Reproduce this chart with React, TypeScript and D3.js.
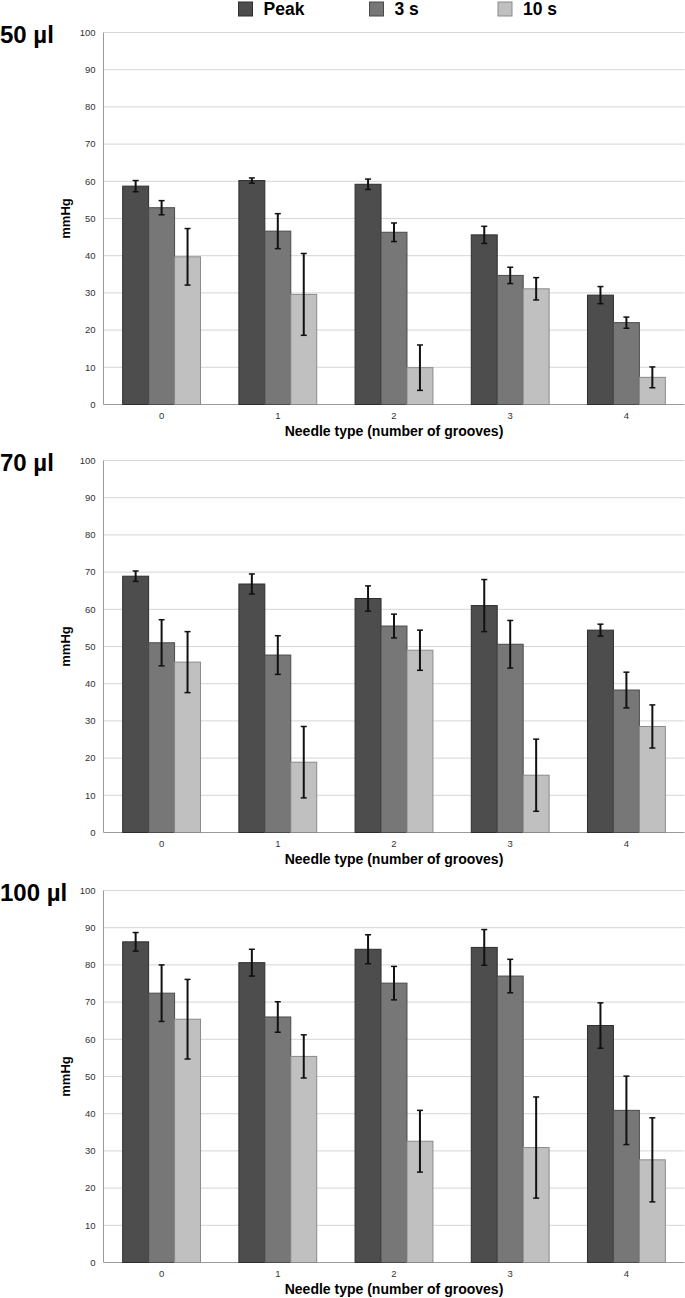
import React, { useEffect, useRef } from 'react';
import * as d3 from 'd3';

const categories = ['0', '1', '2', '3', '4'];
const seriesNames = ['Peak', '3 s', '10 s'];
const seriesColors = ['#4d4d4d', '#777777', '#c0c0c0'];
const seriesStrokes = ['#2e2e2e', '#4a4a4a', '#8a8a8a'];
const yTicks = [0, 10, 20, 30, 40, 50, 60, 70, 80, 90, 100];
const panelLabels = ['50 µl', '70 µl', '100 µl'];

// 50 µl
const peak50 = [58.7, 60.2, 59.2, 45.6, 29.4];
const peak50Err = [1.5, 0.7, 1.4, 2.3, 2.3];
const s3_50 = [52.9, 46.6, 46.3, 34.7, 22.0];
const s3_50Err = [1.9, 4.7, 2.5, 2.2, 1.5];
const s10_50 = [39.7, 29.6, 9.9, 31.1, 7.3];
const s10_50Err = [7.6, 11.0, 6.1, 3.0, 2.8];

// 70 µl
const peak70 = [68.9, 66.8, 62.9, 61.0, 54.4];
const peak70Err = [1.4, 2.7, 3.4, 7.0, 1.6];
const s3_70 = [51.0, 47.7, 55.5, 50.6, 38.3];
const s3_70Err = [6.2, 5.2, 3.2, 6.4, 4.8];
const s10_70 = [45.8, 18.9, 49.0, 15.4, 28.5];
const s10_70Err = [8.2, 9.6, 5.4, 9.7, 5.8];

// 100 µl
const peak100 = [86.2, 80.6, 84.2, 84.7, 63.7];
const peak100Err = [2.5, 3.6, 3.9, 4.8, 6.1];
const s3_100 = [72.4, 66.0, 75.1, 77.0, 40.9];
const s3_100Err = [7.6, 4.1, 4.5, 4.5, 9.2];
const s10_100 = [65.4, 55.4, 32.6, 30.9, 27.6];
const s10_100Err = [10.7, 5.8, 8.3, 13.6, 11.3];

const panels = [
  { label: panelLabels[0], values: [peak50, s3_50, s10_50], errors: [peak50Err, s3_50Err, s10_50Err] },
  { label: panelLabels[1], values: [peak70, s3_70, s10_70], errors: [peak70Err, s3_70Err, s10_70Err] },
  { label: panelLabels[2], values: [peak100, s3_100, s10_100], errors: [peak100Err, s3_100Err, s10_100Err] },
];

const App = () => {
  const svgRef = useRef<SVGSVGElement>(null);
  const width = 685;
  const height = 1298;

  useEffect(() => {
    const svg = d3.select(svgRef.current);
    svg.selectAll('*').remove();

    const font = '"Liberation Sans", Arial, sans-serif';
    const left = 103.5;
    const right = 684.5;
    const plotH = 372;
    const panelTops = [32.5, 460.5, 890.5];

    const x = d3.scaleBand<string>()
      .domain(categories)
      .range([left, right])
      .paddingInner(0.33)
      .paddingOuter(0.165);

    const xs = d3.scaleBand<string>()
      .domain(seriesNames)
      .range([0, x.bandwidth()])
      .padding(0);

    // Legend
    const legend = svg.append('g').attr('class', 'legend');
    const legendX = [238.5, 369.5, 498];
    seriesNames.forEach((name, i) => {
      legend.append('rect')
        .attr('x', legendX[i])
        .attr('y', 2)
        .attr('width', 14)
        .attr('height', 14)
        .attr('fill', seriesColors[i])
        .attr('stroke', seriesStrokes[i])
        .attr('stroke-width', 1);
      legend.append('text')
        .attr('x', legendX[i] + 25)
        .attr('y', 15)
        .style('font-family', font)
        .style('font-size', '17.5px')
        .style('font-weight', 'bold')
        .style('fill', '#000')
        .text(name);
    });

    panels.forEach((panel, p) => {
      const top = panelTops[p];
      const y = d3.scaleLinear().domain([0, 100]).range([top + plotH, top]);
      const g = svg.append('g').attr('class', 'panel');

      // Gridlines
      g.selectAll('.grid')
        .data(yTicks)
        .enter()
        .append('line')
        .attr('x1', left)
        .attr('x2', right)
        .attr('y1', d => y(d))
        .attr('y2', d => y(d))
        .attr('stroke', d => (d === 0 ? '#9a9a9a' : '#d6d6d6'))
        .attr('stroke-width', 1);

      // Left axis line
      g.append('line')
        .attr('x1', left)
        .attr('x2', left)
        .attr('y1', y(100))
        .attr('y2', y(0))
        .attr('stroke', '#9a9a9a')
        .attr('stroke-width', 1);

      // Y tick labels
      g.selectAll('.ytick')
        .data(yTicks)
        .enter()
        .append('text')
        .attr('x', 95.5)
        .attr('y', d => y(d))
        .attr('dy', '0.35em')
        .style('text-anchor', 'end')
        .style('font-family', font)
        .style('font-size', '9.5px')
        .style('fill', '#333')
        .text(d => d);

      // X tick labels
      g.selectAll('.xtick')
        .data(categories)
        .enter()
        .append('text')
        .attr('x', d => (x(d) as number) + x.bandwidth() / 2)
        .attr('y', y(0) + 14.5)
        .style('text-anchor', 'middle')
        .style('font-family', font)
        .style('font-size', '9.5px')
        .style('fill', '#333')
        .text(d => d);

      // Bars
      seriesNames.forEach((name, s) => {
        const vals = panel.values[s];
        const errs = panel.errors[s];
        const bx = (i: number) => (x(categories[i]) as number) + (xs(name) as number);

        g.selectAll(`.bar-${s}`)
          .data(vals)
          .enter()
          .append('rect')
          .attr('x', (d, i) => bx(i))
          .attr('y', d => y(d))
          .attr('width', xs.bandwidth())
          .attr('height', d => y(0) - y(d))
          .attr('fill', seriesColors[s])
          .attr('stroke', seriesStrokes[s])
          .attr('stroke-width', 1);

        // Error bars
        const cx = (i: number) => bx(i) + xs.bandwidth() / 2;
        const eb = g.selectAll(`.err-${s}`)
          .data(vals)
          .enter()
          .append('g');
        eb.append('line')
          .attr('x1', (d, i) => cx(i))
          .attr('x2', (d, i) => cx(i))
          .attr('y1', (d, i) => y(d + errs[i]))
          .attr('y2', (d, i) => y(d - errs[i]))
          .attr('stroke', '#111')
          .attr('stroke-width', 2);
        eb.append('line')
          .attr('x1', (d, i) => cx(i) - 3)
          .attr('x2', (d, i) => cx(i) + 3)
          .attr('y1', (d, i) => y(d + errs[i]))
          .attr('y2', (d, i) => y(d + errs[i]))
          .attr('stroke', '#111')
          .attr('stroke-width', 1.5);
        eb.append('line')
          .attr('x1', (d, i) => cx(i) - 3)
          .attr('x2', (d, i) => cx(i) + 3)
          .attr('y1', (d, i) => y(d - errs[i]))
          .attr('y2', (d, i) => y(d - errs[i]))
          .attr('stroke', '#111')
          .attr('stroke-width', 1.5);
      });

      // Axis titles
      g.append('text')
        .attr('x', (left + right) / 2)
        .attr('y', y(0) + 31.5)
        .style('text-anchor', 'middle')
        .style('font-family', font)
        .style('font-size', '14px')
        .style('font-weight', 'bold')
        .style('fill', '#000')
        .text('Needle type (number of grooves)');

      g.append('text')
        .attr('transform', `translate(69.5, ${(y(0) + y(100)) / 2}) rotate(-90)`)
        .style('text-anchor', 'middle')
        .style('font-family', font)
        .style('font-size', '13px')
        .style('font-weight', 'bold')
        .style('fill', '#000')
        .text('mmHg');

      // Panel label
      g.append('text')
        .attr('x', 0)
        .attr('y', top + 10)
        .style('font-family', font)
        .style('font-size', '24px')
        .style('font-weight', 'bold')
        .style('fill', '#000')
        .text(panel.label);
    });
  }, []);

  return (
    <svg
      ref={svgRef}
      width={width}
      height={height}
      style={{ position: 'absolute', left: 0, top: 0, display: 'block', background: '#fff' }}
    />
  );
};

export default App;
